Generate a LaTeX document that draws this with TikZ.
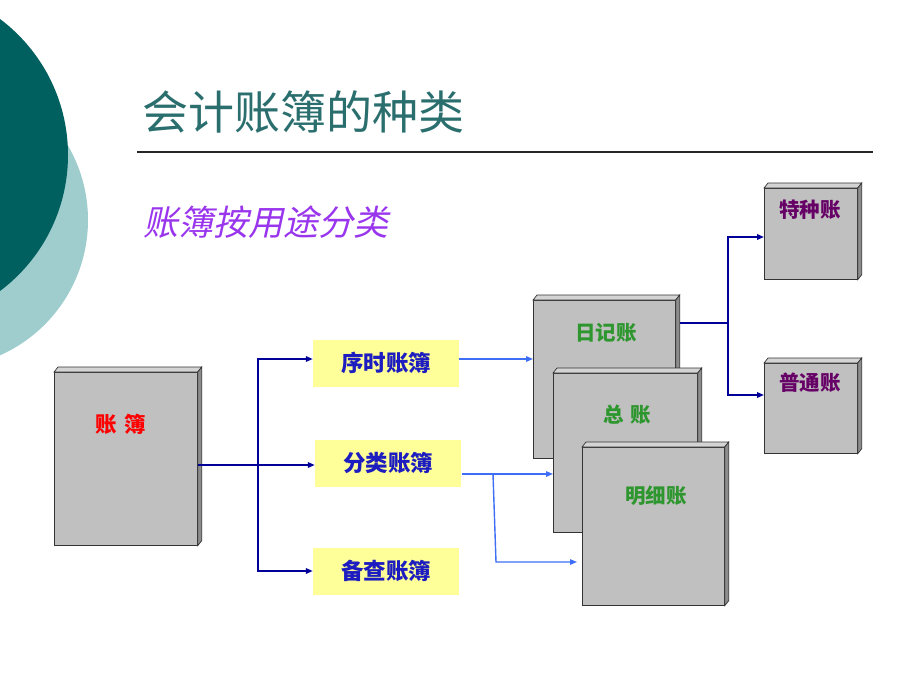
\documentclass[tikz,border=0pt]{standalone}
\usepackage{fontspec}
\newfontfamily\cjk{Noto Sans CJK SC}
\newfontfamily\cjkit[FakeSlant=0.22]{Noto Sans CJK SC}
\usetikzlibrary{arrows.meta}
\definecolor{darkteal}{HTML}{00605F}
\definecolor{lightteal}{HTML}{9FCDCE}
\definecolor{titleteal}{HTML}{2A6E6E}
\definecolor{navyc}{HTML}{000099}
\definecolor{textblue}{HTML}{1C1CC0}
\definecolor{bluec}{HTML}{3D6EF5}
\definecolor{yellowc}{HTML}{FFFF99}
\definecolor{grayc}{HTML}{C0C0C0}
\definecolor{grayside}{HTML}{8C8C8C}
\definecolor{graytop}{HTML}{D4D4D4}
\definecolor{greenc}{HTML}{2E962E}
\definecolor{plumc}{HTML}{660066}
\definecolor{violetc}{HTML}{9A35EE}
\tikzset{
  bk/.style={draw=black!80, line width=0.7pt, fill=grayc, inner sep=0pt},
  bevtop/.style={draw=black!80, line width=0.7pt, fill=graytop},
  bevside/.style={draw=black!80, line width=0.7pt, fill=grayside},
  ybox/.style={fill=yellowc, inner sep=0pt, minimum width=146pt, minimum height=47pt,
    font=\cjk\bfseries\fontsize{22.5}{24}\selectfont, text=textblue},
  navyarrow/.style={draw=navyc, line width=1.7pt, -{Triangle[length=7pt,width=5.5pt]}},
  navyline/.style={draw=navyc, line width=1.7pt},
  bluearrow/.style={draw=bluec, line width=1.4pt, -{Triangle[length=7pt,width=5.5pt]}},
  blueline/.style={draw=bluec, line width=1.4pt},
  blabel/.style={font=\cjk\bfseries\fontsize{20.5}{22}\selectfont, inner sep=0pt},
}
% name, x, y, width, height
\newcommand\bookbox[5]{%
  \node[bk, anchor=north west, minimum width=#4pt, minimum height=#5pt] (#1) at (#2,#3) {};
  \filldraw[bevtop] (#1.north west) -- ([xshift=4pt,yshift=5pt]#1.north west)
     -- ([xshift=4pt,yshift=5pt]#1.north east) -- (#1.north east) -- cycle;
  \filldraw[bevside] (#1.north east) -- ([xshift=4pt,yshift=5pt]#1.north east)
     -- ([xshift=4pt,yshift=5pt]#1.south east) -- (#1.south east) -- cycle;
}
\begin{document}
\begin{tikzpicture}[x=1pt,y=-1pt]
\useasboundingbox (0,0) rectangle (920,690);
\begin{scope}
  \clip (0,0) rectangle (920,690);
  \fill[lightteal] (-60,220) circle[radius=148];
  \fill[darkteal] (-102,155) circle[radius=170];
\end{scope}

% title
\node[anchor=west, inner sep=0pt, text=titleteal, font=\cjk\fontsize{46}{48}\selectfont] (title) at (142,112) {会计账簿的种类};
\coordinate (rl) at (137,152);
\coordinate (rr) at (873,152);
\draw[black!85, line width=1.1pt] (rl) -- (rr);

% subtitle
\node[anchor=west, inner sep=0pt, text=violetc, font=\cjkit\fontsize{35}{38}\selectfont] (sub) at (143,222) {账簿按用途分类};

% main book
\bookbox{zb}{54}{372}{143}{173}
\node[blabel, text=red, font=\cjk\bfseries\fontsize{21.5}{22}\selectfont] (zbl) at (121,424) {账\,\,簿};

% yellow boxes
\node[ybox] (xs) at (386,363) {序时账簿};
\node[ybox] (fl) at (388,463) {分类账簿};
\node[ybox] (bc) at (386,571) {备查账簿};

% navy connectors from main book
\coordinate (trunk) at (258,465);
\draw[navyarrow] (zb.east |- trunk) -- (fl.west |- trunk);
\draw[navyarrow] (trunk) |- ([yshift=4pt]xs.west);
\draw[navyarrow] (trunk) |- (bc.west);

% stacked books
\bookbox{rj}{533}{300}{142}{158}
\node[blabel, text=greenc] (rjl) at (606,333) {日记账};
\bookbox{zz}{553}{373}{144}{159}
\node[blabel, text=greenc] (zzl) at (627,415) {总\,\,账};
\bookbox{mx}{582}{447}{142}{158}
\node[blabel, text=greenc] (mxl) at (656,496) {明细账};

% blue connectors
\draw[bluearrow] ([yshift=4pt]xs.east) -- (rj.west |- 0,359);
\coordinate (fo) at (462,474);
\coordinate (fb) at (493,474);
\coordinate (fb2) at (496,562);
\draw[bluearrow] (fo) -- (zz.west |- fo);
\draw[bluearrow] (fb) -- (fb2) -- ([xshift=-5pt]mx.west |- fb2);

% right books
\bookbox{tz}{764}{188}{93}{91}
\node[blabel, text=plumc] (tzl) at (810,210) {特种账};
\bookbox{pt}{764}{363}{93}{90}
\node[blabel, text=plumc] (ptl) at (810,383) {普通账};

% navy connectors right
\coordinate (rt) at (728,323);
\draw[navyline] ([xshift=4pt]rt -| rj.east) -- (rt);
\draw[navyarrow] (rt) |- (tz.west |- 0,237);
\draw[navyarrow] (rt) |- (pt.west |- 0,395);
\end{tikzpicture}
\end{document}
